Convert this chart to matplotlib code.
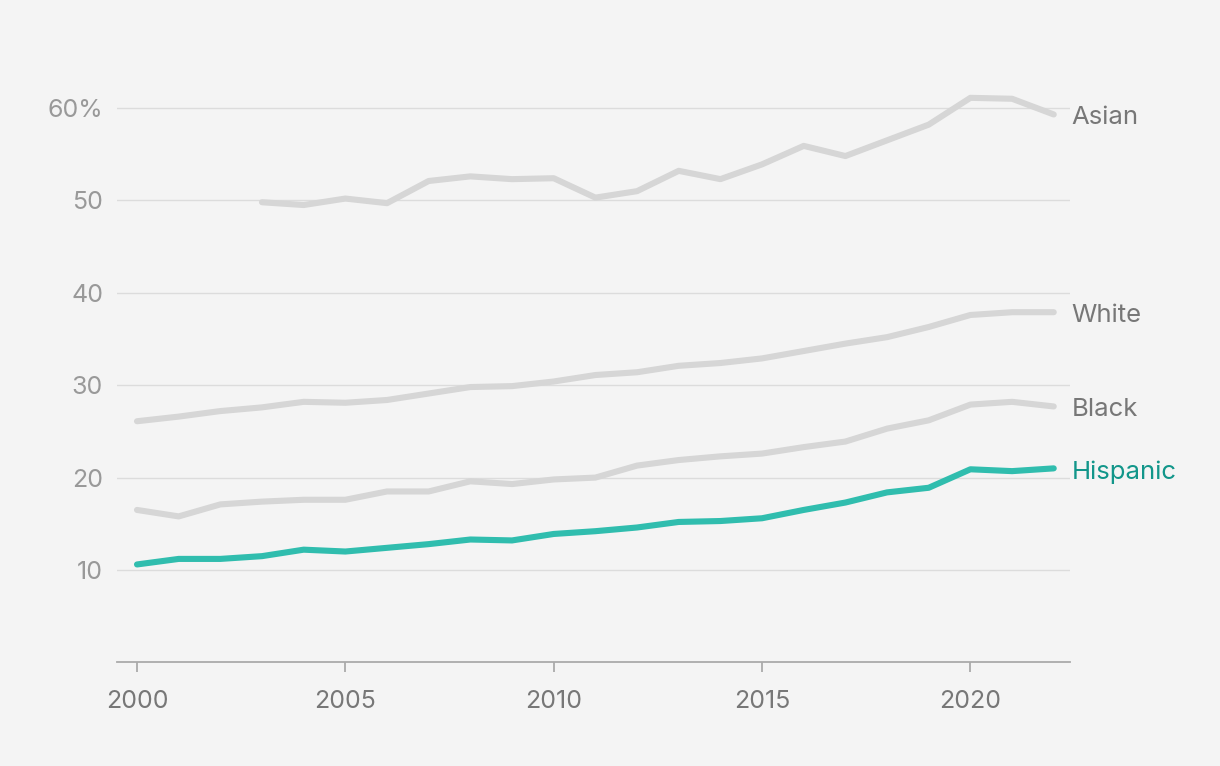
import matplotlib
matplotlib.use("Agg")
import matplotlib.pyplot as plt
from matplotlib.transforms import blended_transform_factory

plt.rcParams['font.family'] = ['Inter', 'DejaVu Sans']

years = list(range(2000, 2023))
asian_years = list(range(2003, 2023))
asian = [49.8, 49.5, 50.2, 49.7, 52.1, 52.6, 52.3, 52.4, 50.3, 51.0, 53.2, 52.3,
         53.9, 55.9, 54.8, 56.5, 58.2, 61.1, 61.0, 59.3]
white = [26.1, 26.6, 27.2, 27.6, 28.2, 28.1, 28.4, 29.1, 29.8, 29.9, 30.4, 31.1,
         31.4, 32.1, 32.4, 32.9, 33.7, 34.5, 35.2, 36.3, 37.6, 37.9, 37.9]
black = [16.5, 15.8, 17.1, 17.4, 17.6, 17.6, 18.5, 18.5, 19.6, 19.3, 19.8, 20.0,
         21.3, 21.9, 22.3, 22.6, 23.3, 23.9, 25.3, 26.2, 27.9, 28.2, 27.7]
hispanic = [10.6, 11.2, 11.2, 11.5, 12.2, 12.0, 12.4, 12.8, 13.3, 13.2, 13.9, 14.2,
            14.6, 15.2, 15.3, 15.6, 16.5, 17.3, 18.4, 18.9, 20.9, 20.7, 21.0]

labels = ["Asian", "White", "Black", "Hispanic"]
yticks = [10, 20, 30, 40, 50, 60]
ytick_labels = ["10", "20", "30", "40", "50", "60%"]
xticks = [2000, 2005, 2010, 2015, 2020]

bg = "#f4f4f4"
gray_line = "#d6d6d6"
teal = "#30bdae"
teal_text = "#12968a"

fig = plt.figure(figsize=(12.2, 7.66), dpi=100, facecolor=bg)
ax = fig.add_axes([117/1220, (766-662.4)/766, (1070-117)/1220, (662.4-61.8)/766])
ax.set_facecolor(bg)

for yv in yticks:
    ax.axhline(yv, color="#dcdcdc", lw=1.0, zorder=1)

ax.plot(asian_years, asian, color=gray_line, lw=4.4, solid_capstyle="round", solid_joinstyle="round", zorder=2)
ax.plot(years, white, color=gray_line, lw=4.4, solid_capstyle="round", solid_joinstyle="round", zorder=2)
ax.plot(years, black, color=gray_line, lw=4.4, solid_capstyle="round", solid_joinstyle="round", zorder=2)
ax.plot(years, hispanic, color=teal, lw=4.4, solid_capstyle="round", solid_joinstyle="round", zorder=3)

ax.set_xlim(1999.52, 2022.39)
ax.set_ylim(0, 65)

ax.set_yticks(yticks)
ax.set_yticklabels(ytick_labels)
ax.set_xticks(xticks)
ax.set_xticklabels([str(x) for x in xticks])

for s in ["top", "right", "left"]:
    ax.spines[s].set_visible(False)
ax.spines["bottom"].set_color("#aaaaaa")
ax.spines["bottom"].set_linewidth(1.3)

ax.tick_params(axis="y", length=0, pad=10, labelsize=18, labelcolor="#999999")
ax.tick_params(axis="x", length=7, width=1.3, color="#aaaaaa", pad=13, labelsize=18, labelcolor="#777777")

trans = blended_transform_factory(ax.transAxes, ax.transData)
ends = [asian[-1], white[-1], black[-1], hispanic[-1]]
colors = ["#777777", "#777777", "#777777", teal_text]
for lab, yv, c in zip(labels, ends, colors):
    ax.annotate(lab, xy=(1.0, yv), xycoords=trans, xytext=(1, -2.5), textcoords="offset points",
                ha="left", va="center", fontsize=18.5, color=c, annotation_clip=False)

fig.savefig("out.png", dpi=100, facecolor=bg)
